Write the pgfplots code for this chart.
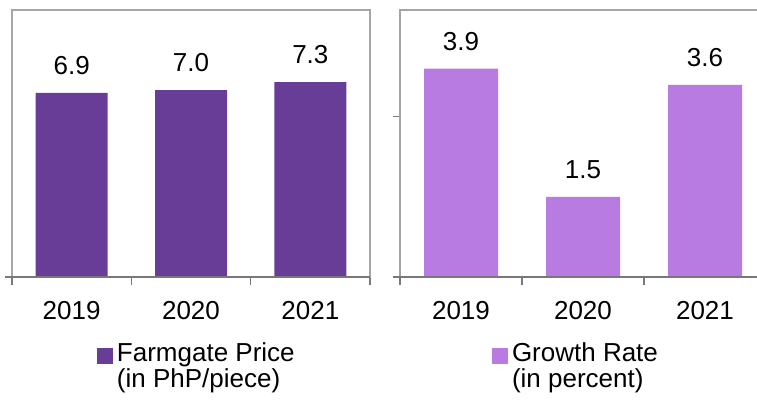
\documentclass[border=0pt]{standalone}
\usepackage{fontspec}
\setmainfont{Liberation Sans}
\usepackage{pgfplots}
\pgfplotsset{compat=1.18}

\definecolor{darkpurple}{RGB}{103,61,151}
\definecolor{lightpurple}{RGB}{183,123,225}
\definecolor{framegray}{RGB}{165,165,165}
\definecolor{basegray}{RGB}{120,120,120}

\newcommand{\bigfont}{\fontsize{26}{30}\selectfont}

\pgfplotsset{
  panel/.style={
    scale only axis, height=267pt, anchor=south west,
    xmin=-0.5, xmax=2.5, ymin=0,
    axis line style={framegray, line width=1.1pt},
    tick align=outside, xtick pos=bottom, ytick pos=left,
    xtick={0,1,2}, xticklabels={2019,2020,2021},
    major x tick style={draw=none},
    minor xtick={-0.5,0.5,1.5,2.5},
    minor tick length=8pt, major tick length=7pt,
    minor x tick style={basegray, line width=1.1pt},
    major y tick style={basegray, line width=1.1pt},
    yticklabels={},
    /pgf/number format/assume math mode=true,
    tick label style={font=\bigfont},
    xticklabel style={yshift=-14pt},
    ybar, bar shift=0pt,
    nodes near coords,
    nodes near coords style={font=\bigfont, inner sep=0pt, yshift=18pt,
      /pgf/number format/.cd, fixed, fixed zerofill, precision=1, assume math mode=true},
    legend style={draw=none, fill=none, inner sep=0pt, outer sep=0pt,
      anchor=north west, column sep=4pt, row sep=0pt,
      nodes={inner sep=0pt, text height=19pt, text depth=7pt, font=\bigfont}},
    legend cell align=left,
    legend image code/.code={\fill[##1] (0pt,-8pt) rectangle (16pt,8pt);},
    after end axis/.code={\draw[basegray, line width=1.1pt] ([xshift=-7pt]rel axis cs:0,0) -- (rel axis cs:1,0);},
  }
}

\begin{document}
\begin{tikzpicture}
\path[use as bounding box] (0pt,0pt) rectangle (757pt,400pt);

% farmgate price
\begin{axis}[panel, at={(12pt,123pt)}, width=358pt, ymax=10, ytick={0},
  bar width=72pt,
  legend style={at={(0.2374,-0.2457)}}]
\addplot[fill=darkpurple, draw=none] coordinates {(0,6.9) (1,7.0) (2,7.3)};
\addlegendentry{Farmgate Price}
\addlegendimage{empty legend}
\addlegendentry{(in PhP/piece)}
\end{axis}

% growth rate
\begin{axis}[panel, at={(400pt,123pt)}, width=366pt, ymax=5, ytick={0,3},
  bar width=74pt,
  legend style={at={(0.2514,-0.2457)}}]
\addplot[fill=lightpurple, draw=none] coordinates {(0,3.9) (1,1.5) (2,3.6)};
\addlegendentry{Growth Rate}
\addlegendimage{empty legend}
\addlegendentry{(in percent)}
\end{axis}
\end{tikzpicture}
\end{document}
